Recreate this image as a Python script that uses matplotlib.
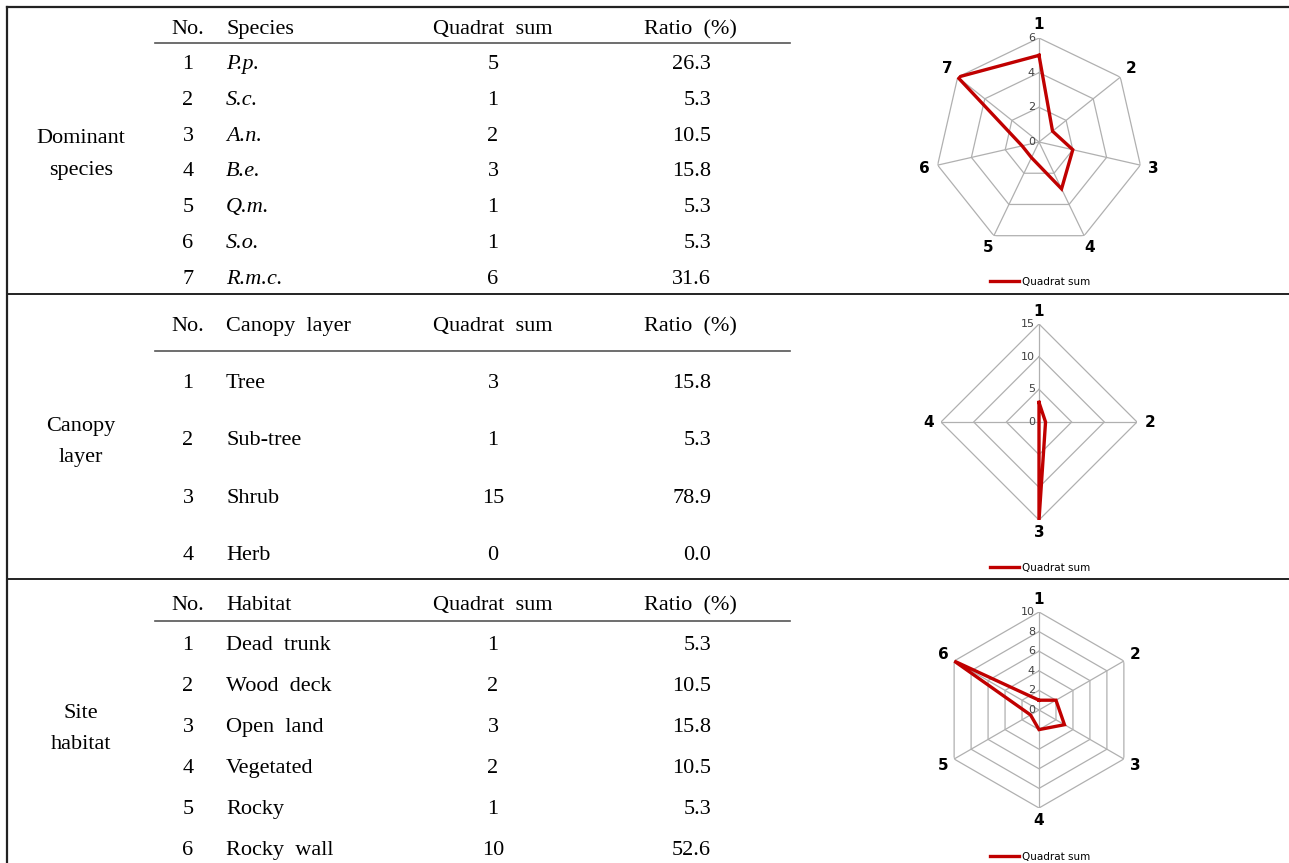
import numpy as np
import matplotlib
matplotlib.use("Agg")
import matplotlib.pyplot as plt
from matplotlib.lines import Line2D
import matplotlib.transforms as mtrans

W, H = 1289, 863

# ---------------- data ----------------
sec_labels = ["Dominant\nspecies", "Canopy\nlayer", "Site\nhabitat"]
col2_headers = ["Species", "Canopy  layer", "Habitat"]

species = ["P.p.", "S.c.", "A.n.", "B.e.", "Q.m.", "S.o.", "R.m.c."]
species_sum = [5, 1, 2, 3, 1, 1, 6]
species_ratio = ["26.3", "5.3", "10.5", "15.8", "5.3", "5.3", "31.6"]

canopy = ["Tree", "Sub-tree", "Shrub", "Herb"]
canopy_sum = [3, 1, 15, 0]
canopy_ratio = ["15.8", "5.3", "78.9", "0.0"]

habitat = ["Dead  trunk", "Wood  deck", "Open  land", "Vegetated", "Rocky", "Rocky  wall"]
habitat_sum = [1, 2, 3, 2, 1, 10]
habitat_ratio = ["5.3", "10.5", "15.8", "10.5", "5.3", "52.6"]

radar_ticks = [[0, 2, 4, 6], [0, 5, 10, 15], [0, 2, 4, 6, 8, 10]]
legend_label = "Quadrat sum"

# ---------------- layout ----------------
fig = plt.figure(figsize=(W / 100, H / 100), dpi=100)
ax = fig.add_axes([0, 0, 1, 1])
ax.set_xlim(0, W)
ax.set_ylim(H, 0)
ax.axis("off")

serif = "Liberation Serif"
fs = 16
line_c = "#222222"
dy = 2.5  # vertical nudge for text

# borders
ax.plot([7, W], [7, 7], color=line_c, lw=1.6)
ax.plot([7, 7], [7, H], color=line_c, lw=1.6)
for y in (294, 579):
    ax.plot([7, W], [y, y], color=line_c, lw=1.4)

sections = [
    dict(names=species, sums=species_sum, ratios=species_ratio, italic=True,
         header_y=27, underline_y=43, rows_y=[62, 98, 134, 169, 205, 241, 277],
         label_y=(136, 168)),
    dict(names=canopy, sums=canopy_sum, ratios=canopy_ratio, italic=False,
         header_y=324, underline_y=351, rows_y=[381, 438, 496, 553],
         label_y=(424, 455)),
    dict(names=habitat, sums=habitat_sum, ratios=habitat_ratio, italic=False,
         header_y=603, underline_y=621, rows_y=[643, 684, 725, 766, 807, 848],
         label_y=(711, 742)),
]

x_no, x_name, x_sum, x_ratio_hdr, x_ratio = 188, 226, 493, 690, 711


def txt(x, y, s, **kw):
    ax.text(x, y + dy, s, family=serif, fontsize=fs, va="center", **kw)


for i, s in enumerate(sections):
    hy = s["header_y"]
    txt(x_no, hy, "No.", ha="center")
    txt(x_name, hy, col2_headers[i], ha="left")
    txt(x_sum, hy, "Quadrat  sum", ha="center")
    txt(x_ratio_hdr, hy, "Ratio  (%)", ha="center")
    ax.plot([155, 790], [s["underline_y"]] * 2, color="#555555", lw=1.2)
    for k, (nm, sm, rt) in enumerate(zip(s["names"], s["sums"], s["ratios"])):
        y = s["rows_y"][k]
        txt(x_no, y, str(k + 1), ha="center")
        txt(x_name, y, nm, ha="left", style="italic" if s["italic"] else "normal")
        txt(x_sum, y, str(sm), ha="center")
        txt(x_ratio, y, rt, ha="right")
    l1, l2 = sec_labels[i].split("\n")
    txt(81, s["label_y"][0], l1, ha="center")
    txt(81, s["label_y"][1], l2, ha="center")

# ---------------- radar charts ----------------
radars = [
    dict(vals=species_sum, ticks=radar_ticks[0], cx=1039, cy=142, r=104, leg_y=282),
    dict(vals=canopy_sum, ticks=radar_ticks[1], cx=1039, cy=422, r=98, leg_y=568),
    dict(vals=habitat_sum, ticks=radar_ticks[2], cx=1039, cy=710, r=98, leg_y=857),
]
red = "#C00000"
grid_c = "#B0B0B0"

for rd in radars:
    vals = rd["vals"]
    n = len(vals)
    rmax = rd["ticks"][-1]
    cx, cy, r = rd["cx"], rd["cy"], rd["r"]
    pax = fig.add_axes([(cx - r) / W, (H - cy - r) / H, 2 * r / W, 2 * r / H],
                       projection="polar")
    pax.set_theta_zero_location("N")
    pax.set_theta_direction(-1)
    pax.set_ylim(0, rmax)
    pax.grid(False)
    pax.spines["polar"].set_visible(False)
    pax.set_xticks([])
    pax.set_yticks([])
    pax.patch.set_alpha(0)
    ang = np.linspace(0, 2 * np.pi, n, endpoint=False)
    ang_c = np.append(ang, ang[0])
    for t in rd["ticks"][1:]:
        pax.plot(ang_c, [t] * (n + 1), color=grid_c, lw=0.9, zorder=1)
    for a in ang:
        pax.plot([a, a], [0, rmax], color=grid_c, lw=0.9, zorder=1)
    v_c = list(vals) + [vals[0]]
    pax.plot(ang_c, v_c, color=red, lw=2.4, zorder=3, solid_joinstyle="miter")
    off = mtrans.ScaledTranslation(-4 / 100, 0, fig.dpi_scale_trans)
    for t in rd["ticks"]:
        pax.text(0, t, str(t), fontsize=8, color="#404040", ha="right", va="center",
                 transform=pax.transData + off, zorder=4)
    for k, a in enumerate(ang):
        pax.text(a, rmax * 1.13, str(k + 1), fontsize=11, fontweight="bold",
                 ha="center", va="center", clip_on=False)
    h = Line2D([], [], color=red, lw=2.4)
    fig.legend([h], [legend_label], loc="center",
               bbox_to_anchor=(1040 / W, 1 - rd["leg_y"] / H), frameon=False,
               fontsize=7.5, handlelength=2.8, handletextpad=0.2, borderpad=0)

fig.savefig("out.png", dpi=100)
